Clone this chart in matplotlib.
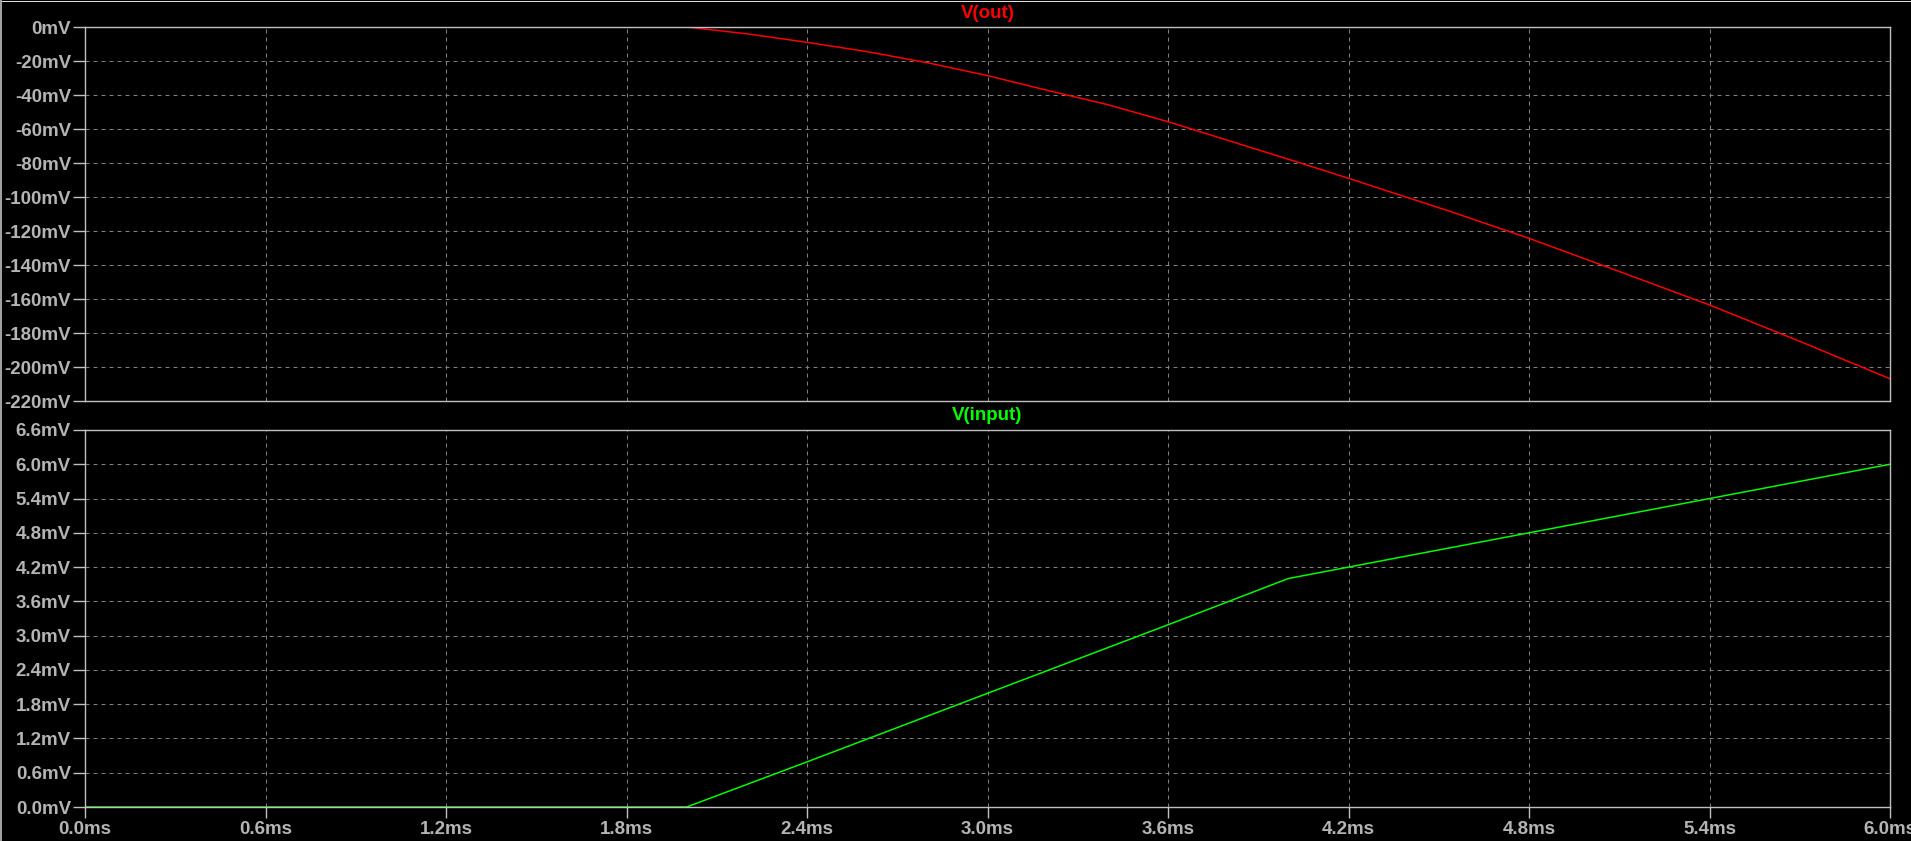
"""LTspice-style transient plot: V(out) above V(input), shared time axis."""

import matplotlib
matplotlib.use("Agg")
import matplotlib.pyplot as plt
import matplotlib.ticker as ticker
from matplotlib.lines import Line2D

# --- data (time in ms, voltages in mV) ---
t_out = [0.0, 2.0, 2.2, 2.4, 2.6, 2.8, 3.0, 3.2, 3.4, 3.6, 4.04, 4.2,
         4.54, 4.8, 5.1, 5.4, 5.7, 6.0]
v_out = [0.0, 0.0, -4.0, -9.0, -14.5, -21.0, -28.6, -37.3, -45.7, -55.7,
         -80.0, -89.0, -108.6, -124.3, -143.8, -163.5, -184.9, -206.9]

t_in = [0.0, 2.0, 2.4, 3.0, 3.6, 4.0, 4.2, 4.8, 5.4, 6.0]
v_in = [0.0, 0.0, 0.79, 1.99, 3.19, 4.0, 4.2, 4.8, 5.4, 6.0]

time_ticks = [0.0, 0.6, 1.2, 1.8, 2.4, 3.0, 3.6, 4.2, 4.8, 5.4, 6.0]
out_ticks = [0, -20, -40, -60, -80, -100, -120, -140, -160, -180, -200, -220]
in_ticks = [0.0, 0.6, 1.2, 1.8, 2.4, 3.0, 3.6, 4.2, 4.8, 5.4, 6.0, 6.6]

BG = "#000000"
FRAME = "#c0c0c0"
TEXT = "#b4b4b4"
GRID = "#808080"
FONT = ["Liberation Sans", "DejaVu Sans"]
FS = 13.5
PX = 0.72  # one pixel in points at dpi 100

W, H = 1911, 841


def style_axes(ax, yticks, yfmt, show_x):
    ax.set_facecolor(BG)
    for sp in ax.spines.values():
        sp.set_color(FRAME)
        sp.set_linewidth(1.4 * PX)
    ax.set_xlim(0.0, 6.0)
    ax.set_ylim(min(yticks), max(yticks))
    ax.set_xticks(time_ticks)
    ax.set_yticks(yticks)
    ax.yaxis.set_major_formatter(ticker.FuncFormatter(yfmt))
    ax.xaxis.set_major_formatter(ticker.FuncFormatter(lambda v, p: f"{v:.1f}ms"))
    ax.tick_params(axis="y", direction="out", length=12 * PX, width=1.4 * PX,
                   color=FRAME, pad=2 * PX, labelcolor=TEXT, labelsize=FS)
    ax.tick_params(axis="x", direction="out", length=(11 * PX) if show_x else 0,
                   width=1.4 * PX, color=FRAME, pad=3 * PX, labelcolor=TEXT,
                   labelsize=FS, labelbottom=show_x)
    for lab in ax.get_xticklabels() + ax.get_yticklabels():
        lab.set_family(FONT)
        lab.set_fontweight("bold")
    ax.grid(True, color=GRID, linestyle=(0, (4, 4)), linewidth=PX)
    ax.set_axisbelow(True)


fig = plt.figure(figsize=(W / 100, H / 100), dpi=100, facecolor=BG)

left, right = 85, 1890
ax_out = fig.add_axes([left / W, 1 - 401 / H, (right - left) / W, (401 - 27) / H])
ax_in = fig.add_axes([left / W, 1 - 807 / H, (right - left) / W, (807 - 430) / H])

style_axes(ax_out, out_ticks, lambda v, p: f"{v:.0f}mV", show_x=False)
style_axes(ax_in, in_ticks, lambda v, p: f"{v:.1f}mV", show_x=True)

ax_out.plot(t_out, v_out, color="#ff0000", linewidth=1.5 * PX)
ax_in.plot(t_in, v_in, color="#00ff00", linewidth=1.5 * PX)

# trace names above each pane
ax_out.annotate("V(out)", xy=(0.5, 1.0), xycoords="axes fraction",
                xytext=(0, 13 * PX), textcoords="offset points",
                ha="center", va="center", color="#ff0000", fontsize=FS,
                family=FONT, fontweight="bold")
ax_in.annotate("V(input)", xy=(0.5, 1.0), xycoords="axes fraction",
               xytext=(0, 14 * PX), textcoords="offset points",
               ha="center", va="center", color="#00ff00", fontsize=FS,
               family=FONT, fontweight="bold")

# window edges seen in the screenshot
fig.add_artist(Line2D([0, 1], [1 - 0.5 / H, 1 - 0.5 / H], transform=fig.transFigure,
                      color="#e0e0e0", linewidth=PX))
fig.add_artist(Line2D([1 / W, 1 / W], [0, 1], transform=fig.transFigure,
                      color="#a0a0a0", linewidth=2 * PX))

fig.savefig("out.png", dpi=100, facecolor=BG)
